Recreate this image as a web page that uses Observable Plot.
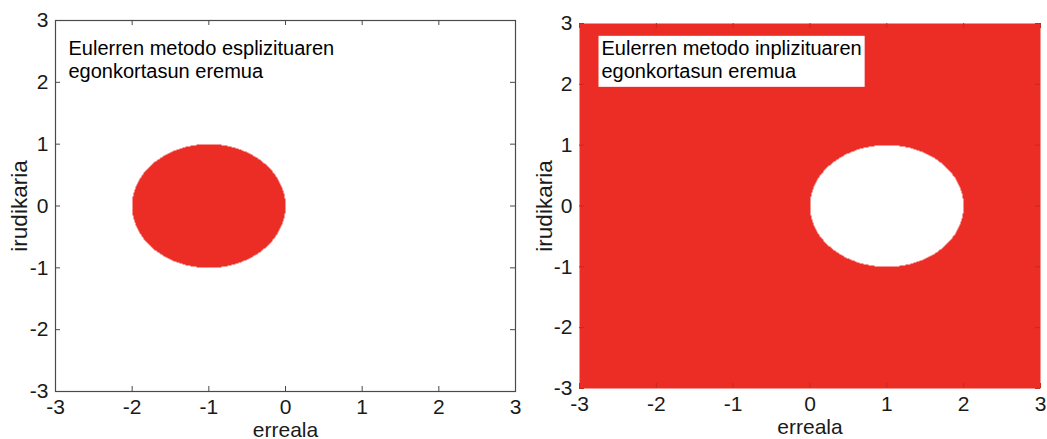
<!DOCTYPE html>
<html>
<head>
<meta charset="utf-8">
<script src="https://cdn.jsdelivr.net/npm/d3@7"></script>
<script src="https://cdn.jsdelivr.net/npm/@observablehq/plot@0.6"></script>
<style>
  html, body { margin: 0; padding: 0; background: #fff; }
  #charts { display: flex; width: 1047px; height: 439px; }
  .y-label-big g[aria-label="y-axis label"] text { font-size: 22.5px; }
</style>
</head>
<body>
<div id="charts"></div>
<script>
// Stability regions of Euler's method in the complex plane (z = h·λ)
const axisTicks = [-3, -2, -1, 0, 1, 2, 3];
const axisDomain = [-3, 3];
const xLabel = "erreala";
const yLabel = "irudikaria";

// explicit Euler: |1 + z| <= 1  -> disc centred at -1
// implicit Euler: |1 - z| >= 1  -> everything outside the disc centred at +1
const panelNotes = [
  ["Eulerren metodo esplizituaren", "egonkortasun eremua"],
  ["Eulerren metodo inplizituaren", "egonkortasun eremua"]
];
const discCenters = [-1, 1];
const discRadius = 1;
const stableInside = [true, false];

const RED = "#eb2d25";
const FONT = "'Liberation Sans', Arial, Helvetica, sans-serif";

function panel(i, {width, marginLeft, marginRight, marginTop, marginBottom, noteDx, noteDy, boxed, frameStroke, tickStroke, yLabelOffset}) {
  const height = 439;
  const plotW = width - marginLeft - marginRight;
  const plotH = height - marginTop - marginBottom;
  const cx = discCenters[i];
  const range = stableInside[i] ? [RED, "#ffffff"] : ["#ffffff", RED];
  const svg = Plot.plot({
    width, height, marginLeft, marginRight, marginTop, marginBottom,
    className: "y-label-big",
    style: {fontFamily: FONT, fontSize: "21px", color: "#1a1a1a", background: "transparent", overflow: "visible"},
    x: {domain: axisDomain, ticks: axisTicks, tickFormat: d => String(d), tickSize: 0, tickPadding: 8,
        label: xLabel, labelAnchor: "center", labelOffset: 45, labelArrow: "none"},
    y: {domain: axisDomain, ticks: axisTicks, tickFormat: d => String(d), tickSize: 0, tickPadding: 7,
        label: yLabel, labelAnchor: "center", labelOffset: yLabelOffset, labelArrow: "none"},
    color: {type: "threshold", domain: [discRadius], range},
    marks: [
      Plot.raster({x1: axisDomain[0], x2: axisDomain[1], y1: axisDomain[0], y2: axisDomain[1],
                   fill: (x, y) => Math.hypot(x - cx, y), pixelSize: 1}),
      frameStroke ? Plot.frame({stroke: frameStroke, strokeWidth: 1.2}) : null,
      // inward ticks on all four sides of the box
      Plot.tickX(axisTicks, {x: d => d, insetTop: plotH - 5, stroke: tickStroke}),
      Plot.tickX(axisTicks, {x: d => d, insetBottom: plotH - 5, stroke: tickStroke}),
      Plot.tickY(axisTicks, {y: d => d, insetRight: plotW - 5, stroke: tickStroke}),
      Plot.tickY(axisTicks, {y: d => d, insetLeft: plotW - 5, stroke: tickStroke}),
      Plot.text([panelNotes[i].join("\n")], {
        text: d => d, frameAnchor: "top-left", textAnchor: "start", lineAnchor: "top",
        dx: noteDx, dy: noteDy, lineHeight: 1.15, fontSize: 20, fill: "#000",
        className: "panel-note"
      })
    ]
  });
  document.getElementById("charts").appendChild(svg);
  if (boxed) {
    // white label box behind the note
    const note = svg.querySelector(".panel-note text");
    const g = note.parentNode;
    const b = note.getBBox();
    const rect = document.createElementNS("http://www.w3.org/2000/svg", "rect");
    rect.setAttribute("x", b.x - 3);
    rect.setAttribute("y", b.y - 1);
    rect.setAttribute("width", b.width + 6);
    rect.setAttribute("height", b.height + 6);
    rect.setAttribute("fill", "#fff");
    const t = note.getAttribute("transform");
    if (t) rect.setAttribute("transform", t);
    g.insertBefore(rect, note);
  }
}

panel(0, {width: 523, marginLeft: 55, marginRight: 8, marginTop: 20, marginBottom: 48,
          noteDx: 13, noteDy: 18, boxed: false, frameStroke: "#4a4a4a", tickStroke: "#4a4a4a", yLabelOffset: 44});
panel(1, {width: 524, marginLeft: 56, marginRight: 7, marginTop: 23, marginBottom: 51,
          noteDx: 22, noteDy: 15, boxed: true, frameStroke: null, tickStroke: "#c7281f", yLabelOffset: 43});
</script>
</body>
</html>
